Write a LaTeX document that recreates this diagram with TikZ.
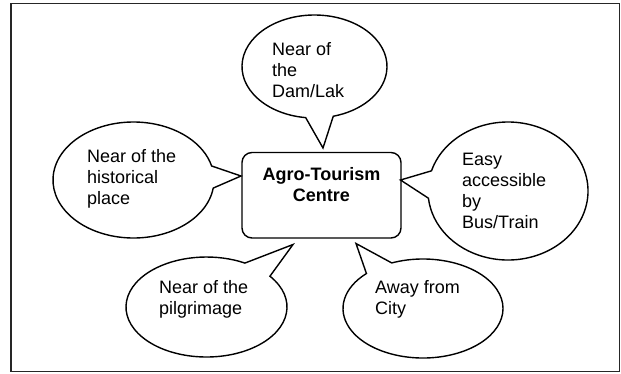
\documentclass[tikz,border=0pt]{standalone}
\usepackage{fontspec}
\setmainfont{Liberation Sans}
\begin{document}
\begin{tikzpicture}[x=1pt,y=-1pt,
  bubble/.style={draw=black, line width=1.4pt, fill=white, line join=miter},
  frame/.style={draw=black!85, line width=1.5pt},
  txt/.style={anchor=base west, inner sep=0pt, font=\fontsize{18}{21.3}\selectfont},
  centrebox/.style={draw=black, line width=1.4pt, rounded corners=10pt, minimum width=159pt, minimum height=85.5pt, inner sep=0pt},
  centretxt/.style={anchor=base, inner sep=0pt, font=\fontsize{18}{21.7}\selectfont\bfseries}]
\useasboundingbox (0,0) rectangle (621,373);
\draw[frame] (11,3.5) rectangle (619.5,371.5);

% tips of the bubbles' tails
\coordinate (tipdam) at (323,148);
\coordinate (tiphist) at (241,176);
\coordinate (tipeasy) at (400.5,180);
\coordinate (tippilg) at (293,244.5);
\coordinate (tipcity) at (356,243.5);

% centre box
\node[centrebox] (centre) at (321.5,195.25) {};
\node[centretxt] (centretext) at (321.5,180) {\begin{tabular}[t]{@{}c@{}}Agro-Tourism\\Centre\end{tabular}};

% bubbles
\draw[bubble] (314.5,66.5) ++(97:72.5 and 51.5) arc[start angle=97, end angle=435, x radius=72.5, y radius=51.5] -- (tipdam) -- cycle;
\draw[bubble] (133.5,180) ++(8:80.5 and 58) arc[start angle=8, end angle=346, x radius=80.5, y radius=58] -- (tiphist) -- cycle;
\draw[bubble] (508,191) ++(197:80 and 69) arc[start angle=197, end angle=534, x radius=80, y radius=69] -- (tipeasy) -- cycle;
\draw[bubble] (206.5,307) ++(-38:80.5 and 50) arc[start angle=-38, end angle=298.5, x radius=80.5, y radius=50] -- (tippilg) -- cycle;
\draw[bubble] (423,308.5) ++(247:80 and 49.5) arc[start angle=247, end angle=585, x radius=80, y radius=49.5] -- (tipcity) -- cycle;

% bubble texts
\node[txt] (dam) at (272,55) {\begin{tabular}[t]{@{}l@{}}Near of\\the\\Dam/Lak\end{tabular}};
\node[txt] (hist) at (87,162) {\begin{tabular}[t]{@{}l@{}}Near of the\\historical\\place\end{tabular}};
\node[txt] (easy) at (462,165) {\begin{tabular}[t]{@{}l@{}}Easy\\accessible\\by\\Bus/Train\end{tabular}};
\node[txt] (pilg) at (159,293) {\begin{tabular}[t]{@{}l@{}}Near of the\\pilgrimage\end{tabular}};
\node[txt] (city) at (375,293) {\begin{tabular}[t]{@{}l@{}}Away from\\City\end{tabular}};
\end{tikzpicture}
\end{document}
